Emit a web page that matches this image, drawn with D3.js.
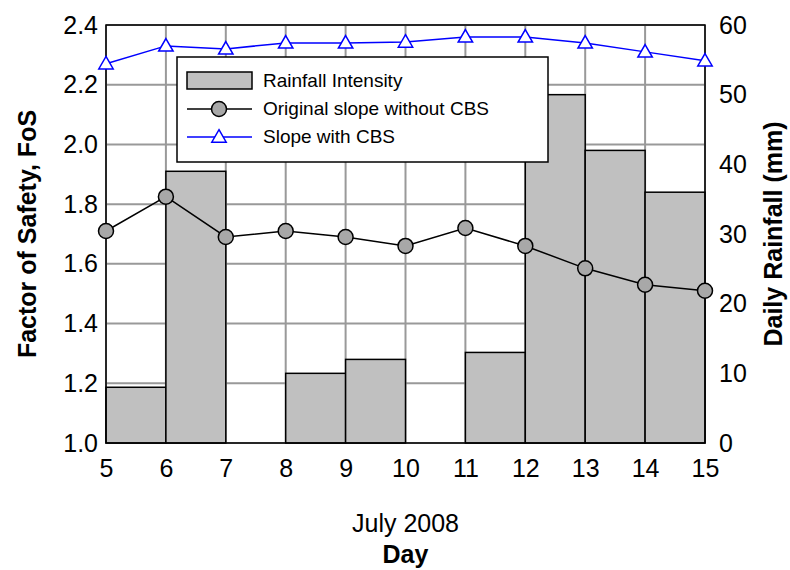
<!DOCTYPE html>
<html><head><meta charset="UTF-8">
<script src="https://d3js.org/d3.v7.min.js"></script>
<style>body{margin:0;background:#fff}text{font-family:"Liberation Sans",Arial,sans-serif}</style>
</head><body><div id="chart"></div>
<script>
const days = [5,6,7,8,9,10,11,12,13,14,15];
const rainfall = [8,39,0,10,12,0,13,50,42,36]; // day i..i+1
const fosOriginal = [1.71,1.825,1.69,1.71,1.69,1.66,1.72,1.66,1.585,1.53,1.51];
const fosCBS = [2.27,2.33,2.32,2.34,2.34,2.343,2.36,2.36,2.34,2.31,2.28];
const fosTicks = [1.0,1.2,1.4,1.6,1.8,2.0,2.2,2.4];
const rainTicks = [0,10,20,30,40,50,60];

const W=790,H=570,m={l:106,r:85,t:25,b:127};
const svg=d3.select("#chart").append("svg").attr("width",W).attr("height",H);
const x=d3.scaleLinear().domain([5,15]).range([m.l,W-m.r]);
const y=d3.scaleLinear().domain([1,2.4]).range([H-m.b,m.t]);
const y2=d3.scaleLinear().domain([0,60]).range([H-m.b,m.t]);

// gridlines
const gridPath = days.map(d=>`M${x(d)},${m.t}V${H-m.b}`).join("")
  + fosTicks.map(d=>`M${m.l},${y(d)}H${W-m.r}`).join("");
svg.append("path").attr("d",gridPath).attr("fill","none").attr("stroke","#999999").attr("stroke-width",2);

svg.append("g").selectAll("rect").data(rainfall).join("rect")
 .attr("x",(d,i)=>x(days[i])).attr("width",(d,i)=>x(days[i+1])-x(days[i]))
 .attr("y",d=>y2(d)).attr("height",d=>y2(0)-y2(d))
 .attr("fill","#c0c0c0").attr("stroke","#000").attr("stroke-width",1.5)
 .style("display",d=>d>0?null:"none");

svg.append("rect").attr("x",m.l).attr("y",m.t).attr("width",W-m.l-m.r).attr("height",H-m.t-m.b)
 .attr("fill","none").attr("stroke","#000").attr("stroke-width",1.5);

const line=d3.line().x((d,i)=>x(days[i])).y(d=>y(d));
svg.append("path").datum(fosOriginal).attr("d",line).attr("fill","none").attr("stroke","#000").attr("stroke-width",1.5);
svg.append("g").selectAll("circle").data(fosOriginal).join("circle").attr("cx",(d,i)=>x(days[i])).attr("cy",d=>y(d))
 .attr("r",7.5).attr("fill","#a8a8a8").attr("stroke","#000").attr("stroke-width",1.5);
svg.append("path").datum(fosCBS).attr("d",line).attr("fill","none").attr("stroke","#0000ff").attr("stroke-width",1.5);
const tri=d3.symbol().type(d3.symbolTriangle).size(90);
svg.append("g").selectAll("path").data(fosCBS).join("path").attr("d",tri)
 .attr("transform",(d,i)=>`translate(${x(days[i])},${y(d)+1})`)
 .attr("fill","#fff").attr("stroke","#0000ff").attr("stroke-width",1.5);

const fs="25px";
svg.append("g").attr("transform",`translate(0,${H-m.b})`)
 .call(d3.axisBottom(x).tickValues(days).tickFormat(d3.format("d")).tickSize(0).tickPadding(16))
 .call(a=>{a.select(".domain").remove();a.selectAll("text").style("font-size",fs);});
svg.append("g").attr("transform",`translate(${m.l},0)`)
 .call(d3.axisLeft(y).tickValues(fosTicks).tickFormat(d3.format(".1f")).tickSize(0).tickPadding(8))
 .call(a=>{a.select(".domain").remove();a.selectAll("text").style("font-size",fs);});
svg.append("g").attr("transform",`translate(${W-m.r},0)`)
 .call(d3.axisRight(y2).tickValues(rainTicks).tickSize(0).tickPadding(14))
 .call(a=>{a.select(".domain").remove();a.selectAll("text").style("font-size",fs);});

svg.append("text").attr("transform",`translate(36,${(m.t+H-m.b)/2}) rotate(-90)`).attr("text-anchor","middle")
 .style("font-size",fs).style("font-weight","bold").text("Factor of Safety, FoS");
svg.append("text").attr("transform",`translate(782,${(m.t+H-m.b)/2}) rotate(-90)`).attr("text-anchor","middle")
 .style("font-size",fs).style("font-weight","bold").text("Daily Rainfall (mm)");
svg.append("text").attr("x",x(10)).attr("y",532).attr("text-anchor","middle").style("font-size",fs).text("July 2008");
svg.append("text").attr("x",x(10)).attr("y",563).attr("text-anchor","middle").style("font-size",fs).style("font-weight","bold").text("Day");

const lg=svg.append("g").attr("transform","translate(177,57)");
lg.append("rect").attr("width",371).attr("height",105).attr("fill","#fff").attr("stroke","#000").attr("stroke-width",1.5);
lg.append("rect").attr("x",10).attr("y",15).attr("width",65).attr("height",17).attr("fill","#c0c0c0").attr("stroke","#000").attr("stroke-width",1.5);
lg.append("line").attr("x1",10).attr("x2",75).attr("y1",52).attr("y2",52).attr("stroke","#000").attr("stroke-width",1.5);
lg.append("circle").attr("cx",42).attr("cy",52).attr("r",7.5).attr("fill","#a8a8a8").attr("stroke","#000").attr("stroke-width",1.5);
lg.append("line").attr("x1",10).attr("x2",75).attr("y1",80).attr("y2",80).attr("stroke","#0000ff").attr("stroke-width",1.5);
lg.append("path").attr("d",tri).attr("transform","translate(42,81)").attr("fill","#fff").attr("stroke","#0000ff").attr("stroke-width",1.5);
[["Rainfall Intensity",30],["Original slope without CBS",58],["Slope with CBS",86]].forEach(([t,yy])=>
 lg.append("text").attr("x",86).attr("y",yy).style("font-size","19px").text(t));
</script></body></html>
